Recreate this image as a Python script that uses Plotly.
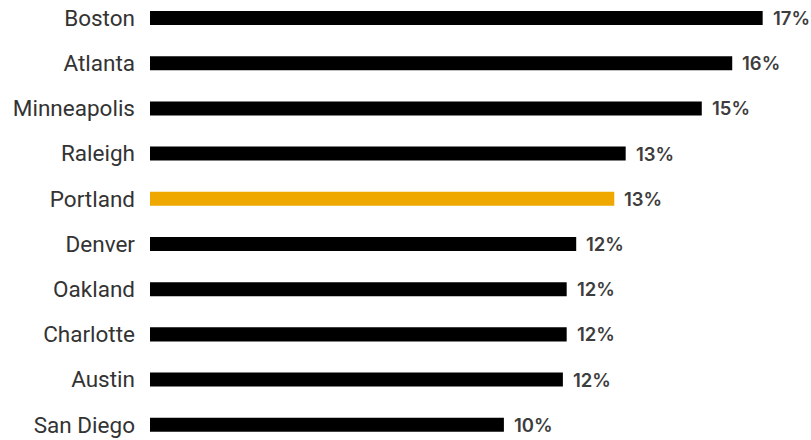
import plotly.graph_objects as go

# Share by city (percent), largest first
cities = ["Boston", "Atlanta", "Minneapolis", "Raleigh", "Portland",
          "Denver", "Oakland", "Charlotte", "Austin", "San Diego"]
shares = [16.9, 16.1, 15.3, 13.3, 13.0, 12.0, 11.75, 11.75, 11.65, 10.1]
highlight = "Portland"

BAR = "#000000"
ACCENT = "#EEA800"
colors = [ACCENT if c == highlight else BAR for c in cities]

fig = go.Figure(
    go.Bar(
        x=shares,
        y=cities,
        orientation="h",
        width=0.31,
        marker=dict(color=colors, line=dict(width=0)),
        hoverinfo="skip",
    )
)

# value labels just past the end of each bar
for c, v in zip(cities, shares):
    fig.add_annotation(
        x=v, y=c, text=f"{v:.0f}%", showarrow=False,
        xanchor="left", yanchor="middle", xshift=8, yshift=0,
        font=dict(family="Inter", size=18.5, color="#3d3d3d", weight=600),
    )

fig.update_layout(
    width=811,
    height=440,
    margin=dict(l=150, r=0, t=0, b=0),
    paper_bgcolor="white",
    plot_bgcolor="white",
    showlegend=False,
    font=dict(family="Roboto", size=22.5, color="#333333"),
    xaxis=dict(range=[0.8, 18.17], visible=False, fixedrange=True),
    yaxis=dict(
        categoryorder="array",
        categoryarray=cities,
        range=[9.337, -0.398],
        showgrid=False,
        zeroline=False,
        showline=False,
        ticks="",
        ticklabelstandoff=14,
        tickfont=dict(family="Roboto", size=22.5, color="#333333"),
    ),
)

fig.write_html("out.html")
